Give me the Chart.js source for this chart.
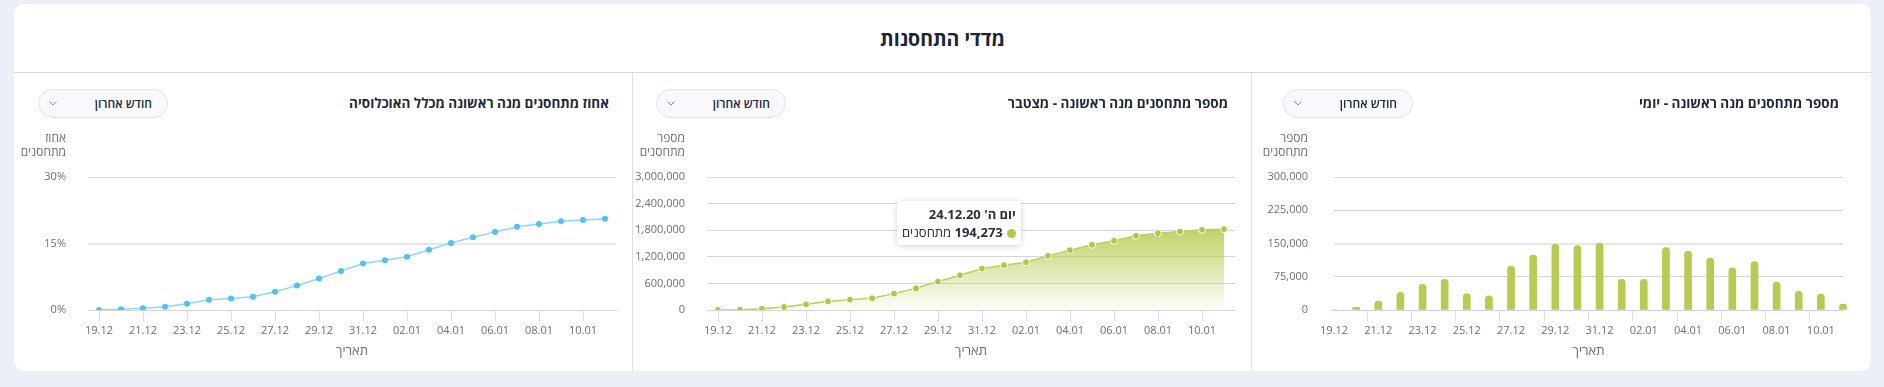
<!DOCTYPE html>
<html lang="he">
<head>
<meta charset="utf-8">
<script src="https://cdn.jsdelivr.net/npm/chart.js@4.4.1/dist/chart.umd.min.js"></script>
<style>
html,body{margin:0;padding:0;}
body{width:1884px;height:387px;background:#eceff7;position:relative;overflow:hidden;font-family:"Open Sans","Liberation Sans","DejaVu Sans",sans-serif;}
.card{position:absolute;left:14px;top:4px;width:1857px;height:367px;background:#fff;border-radius:10px;}
.main-title{position:absolute;left:14px;width:1857px;top:25px;text-align:center;font-weight:700;font-size:19.5px;line-height:28px;color:#1c2334;direction:rtl;}
.sep{position:absolute;left:14px;width:1857px;top:72px;height:1px;background:#d9d9d9;}
.vdiv{position:absolute;top:73px;height:298px;width:1px;background:#e0e0e0;}
.ptitle{position:absolute;top:93px;height:20px;line-height:20px;font-weight:700;font-size:13.5px;color:#1f2838;direction:rtl;text-align:right;white-space:nowrap;}
.btn{position:absolute;top:89px;height:27px;width:128px;border:1px solid #dfe3ec;border-radius:15px;background:#f8f9fc;direction:rtl;}
.btn span{position:absolute;right:15px;top:0;line-height:27px;font-size:12px;font-weight:600;color:#262c40;white-space:nowrap;}
.btn svg{position:absolute;left:10px;top:11px;}
canvas.cv{position:absolute;top:125px;}
#tip{position:absolute;display:none;background:#fff;border-radius:4px;box-shadow:0 1px 6px rgba(0,0,0,.18);direction:rtl;padding:4px 5px;font-size:13px;color:#2b2f3a;white-space:nowrap;pointer-events:none;}
#tip .t{font-weight:700;line-height:18px;}
#tip .b{line-height:18px;}
#tip .dot{display:inline-block;width:9px;height:9px;border-radius:50%;background:#b5c846;margin-left:4px;vertical-align:-1px;}
</style>
</head>
<body>
<div class="card"></div>
<div class="main-title">מדדי התחסנות</div>
<div class="sep"></div>

<canvas class="cv" id="cPct" width="616" height="245" style="left:14px"></canvas>
<canvas class="cv" id="cCum" width="623" height="245" style="left:625px"></canvas>
<canvas class="cv" id="cDaily" width="617" height="245" style="left:1248px"></canvas>

<div class="vdiv" style="left:632px"></div>
<div class="vdiv" style="left:1251px"></div>

<div class="ptitle" style="right:1275px">אחוז מתחסנים מנה ראשונה מכלל האוכלוסיה</div>
<div class="ptitle" style="right:656px">מספר מתחסנים מנה ראשונה - מצטבר</div>
<div class="ptitle" style="right:45px">מספר מתחסנים מנה ראשונה - יומי</div>

<div class="btn" style="left:38px"><span>חודש אחרון</span><svg width="8" height="5" viewBox="0 0 8 5"><path d="M0.5 0.5 L4 4 L7.5 0.5" fill="none" stroke="#8a90a0" stroke-width="1"/></svg></div>
<div class="btn" style="left:656px"><span>חודש אחרון</span><svg width="8" height="5" viewBox="0 0 8 5"><path d="M0.5 0.5 L4 4 L7.5 0.5" fill="none" stroke="#8a90a0" stroke-width="1"/></svg></div>
<div class="btn" style="left:1283px"><span>חודש אחרון</span><svg width="8" height="5" viewBox="0 0 8 5"><path d="M0.5 0.5 L4 4 L7.5 0.5" fill="none" stroke="#8a90a0" stroke-width="1"/></svg></div>

<div id="tip"></div>

<script>
// ---- data ----
const dates = ['19.12','20.12','21.12','22.12','23.12','24.12','25.12','26.12','27.12','28.12','29.12','30.12','31.12',
               '01.01','02.01','03.01','04.01','05.01','06.01','07.01','08.01','09.01','10.01','11.01'];
const percentVaccinated = [0, 0.15, 0.4, 0.75, 1.4, 2.3, 2.6, 3.0, 4.1, 5.5, 7.1, 8.8, 10.5,
                           11.2, 12.0, 13.6, 15.1, 16.4, 17.6, 18.8, 19.4, 20.0, 20.3, 20.6];
const cumulativeVaccinated = [0, 7000, 30000, 68000, 128000, 194273, 234000, 264000, 369000, 490000, 641000, 784000, 935000,
                              1010000, 1078000, 1221000, 1349000, 1470000, 1560000, 1673000, 1734000, 1771000, 1809000, 1824000];
const dailyVaccinated = [0, 6000, 20400, 40000, 58000, 69000, 37000, 32000, 99000, 124000, 148000, 145500, 151000,
                         69000, 69000, 141000, 133000, 117000, 95000, 109000, 63000, 42000, 36000, 13600];
const percentTicks = [0, 15, 30];
const cumulativeTicks = [0, 600000, 1200000, 1800000, 2400000, 3000000];
const dailyTicks = [0, 75000, 150000, 225000, 300000];
const hebDays = ['א','ב','ג','ד','ה','ו','ש'];

// ---- styling ----
Chart.defaults.font.family = '"Open Sans","Liberation Sans","DejaVu Sans",sans-serif';
const tickColor = '#6e7079';
const gridGrey = '#d6d6d6';
const gridSoft = '#e7e7e7';
const tickBlue = '#d3e0f2';
const fmt = v => Number(v).toLocaleString('en-US');

const yTitlePlugin = {
  id: 'yTitle',
  afterDraw(chart, args, opts) {
    if (!opts.lines) return;
    const {ctx, chartArea} = chart;
    ctx.save();
    ctx.font = '12px "Open Sans","Liberation Sans","DejaVu Sans",sans-serif';
    ctx.fillStyle = tickColor;
    ctx.textAlign = 'right';
    ctx.textBaseline = 'middle';
    const x = chartArea.left - opts.pad;
    opts.lines.forEach((t, i) => ctx.fillText(t, x, chartArea.top - 38 + i * 13.5));
    ctx.restore();
  }
};

function xScale(offset, borderColor) {
  return {
    type: 'category',
    offset: offset,
    grid: {
      drawOnChartArea: false, drawTicks: true, tickLength: 11, lineWidth: 1,
      color: c => (c.index % 2 ? 'rgba(0,0,0,0)' : tickBlue),
      tickColor: c => (c.index % 2 ? 'rgba(0,0,0,0)' : tickBlue)
    },
    border: {display: true, color: borderColor, width: 1},
    ticks: {
      autoSkip: false, maxRotation: 0, minRotation: 0, padding: 3,
      color: tickColor, font: {size: 11},
      callback: (v, i) => (i % 2 === 0 ? dates[i] : '')
    },
    title: {display: true, text: 'תאריך', color: tickColor, font: {size: 13}, padding: {top: 0, bottom: 10.5}},
    afterFit: s => { s.height = 60; }
  };
}

function yScale(ticksArr, step, width, pad, labelFn, gridFn) {
  return {
    min: ticksArr[0], max: ticksArr[ticksArr.length - 1],
    ticks: {stepSize: step, padding: pad, color: tickColor, font: {size: 11}, callback: labelFn},
    grid: {drawTicks: false, color: c => gridFn(c).color, lineWidth: c => gridFn(c).width},
    border: {display: false},
    afterFit: s => { s.width = width; }
  };
}

const baseOpts = (layoutPad) => ({
  responsive: false, animation: false, events: [], devicePixelRatio: 1,
  layout: {padding: layoutPad},
  plugins: {legend: {display: false}, tooltip: {enabled: false}}
});

// ---- percent chart ----
const pctOpts = baseOpts({top: 52, left: 0, right: 14, bottom: 0});
pctOpts.scales = {
  x: xScale(true, gridGrey),
  y: yScale(percentTicks, 15, 74, 22, v => v + '%',
    c => (c.tick && c.tick.value === 15 ? {color: gridSoft, width: 2} : {color: gridGrey, width: 1}))
};
pctOpts.plugins.yTitle = {lines: ['אחוז', 'מתחסנים'], pad: 22};
new Chart(document.getElementById('cPct'), {
  type: 'line',
  data: {labels: dates, datasets: [{
    data: percentVaccinated, borderColor: '#8fd6f6', borderWidth: 1.5, tension: 0, fill: false,
    pointRadius: 3, pointBackgroundColor: '#4cc3f3', pointBorderColor: '#4cc3f3', pointBorderWidth: 0
  }]},
  options: pctOpts,
  plugins: [yTitlePlugin]
});

// ---- cumulative chart ----
function externalTip(context) {
  const {chart, tooltip} = context;
  const el = document.getElementById('tip');
  if (tooltip.opacity === 0) { el.style.display = 'none'; return; }
  const dp = tooltip.dataPoints[0];
  el.innerHTML = '<div class="t">' + tooltip.title[0] + '</div><div class="b"><span class="dot"></span><b>' +
                 fmt(dp.raw) + '</b> מתחסנים</div>';
  const r = chart.canvas.getBoundingClientRect();
  el.style.display = 'block';
  el.style.left = (r.left + tooltip.caretX + 69) + 'px';
  el.style.top = (r.top + tooltip.caretY - 100) + 'px';
}
const cumOpts = baseOpts({top: 52, left: 0, right: 13, bottom: 0});
cumOpts.scales = {
  x: xScale(true, gridGrey),
  y: yScale(cumulativeTicks, 300000, 82, 22,
    v => (cumulativeTicks.includes(v) ? fmt(v) : ''),
    c => (c.tick && cumulativeTicks.includes(c.tick.value) ? {color: gridGrey, width: 1} : {color: gridSoft, width: 2}))
};
cumOpts.plugins.yTitle = {lines: ['מספר', 'מתחסנים'], pad: 22};
cumOpts.plugins.tooltip = {
  enabled: false, external: externalTip,
  callbacks: {
    title: items => {
      const lbl = items[0].label;
      const [d, m] = lbl.split('.').map(Number);
      const y = m === 12 ? 2020 : 2021;
      const wd = new Date(y, m - 1, d).getDay();
      return 'יום ' + hebDays[wd] + "' " + lbl + '.' + String(y).slice(2);
    }
  }
};
const cumChart = new Chart(document.getElementById('cCum'), {
  type: 'line',
  data: {labels: dates, datasets: [{
    data: cumulativeVaccinated, borderColor: '#bccf5c', borderWidth: 1.5, tension: 0,
    fill: 'origin',
    backgroundColor: (ctx) => {
      const chart = ctx.chart;
      const area = chart.chartArea;
      if (!area) return 'rgba(181,201,70,0.3)';
      const topY = chart.scales.y.getPixelForValue(Math.max(...cumulativeVaccinated));
      const g = chart.ctx.createLinearGradient(0, topY, 0, area.bottom);
      g.addColorStop(0, 'rgba(176,198,62,0.8)');
      g.addColorStop(1, 'rgba(176,198,62,0.02)');
      return g;
    },
    pointRadius: 3.5, pointBackgroundColor: '#b3c744', pointBorderColor: '#ffffff', pointBorderWidth: 1,
    pointHoverRadius: 3.5
  }]},
  options: cumOpts,
  plugins: [yTitlePlugin]
});
cumChart.tooltip.setActiveElements([{datasetIndex: 0, index: dates.indexOf('24.12')}], {x: 0, y: 0});

// ---- daily chart ----
const dayOpts = baseOpts({top: 52, left: 0, right: 22, bottom: 0});
dayOpts.scales = {
  x: xScale(false, '#c8d6ec'),
  y: yScale(dailyTicks, 75000, 86, 26, v => fmt(v),
    c => {
      if (!c.tick || c.tick.value === 0) return {color: 'rgba(0,0,0,0)', width: 1};
      if (c.tick.value === 150000) return {color: gridSoft, width: 2};
      return {color: gridGrey, width: 1};
    })
};
dayOpts.plugins.yTitle = {lines: ['מספר', 'מתחסנים'], pad: 26};
new Chart(document.getElementById('cDaily'), {
  type: 'bar',
  data: {labels: dates, datasets: [{
    data: dailyVaccinated, backgroundColor: '#b8ca50', barThickness: 7,
    borderRadius: {topLeft: 3.5, topRight: 3.5, bottomLeft: 0, bottomRight: 0}, borderSkipped: false,
    clip: false
  }]},
  options: dayOpts,
  plugins: [yTitlePlugin]
});
</script>
</body>
</html>
